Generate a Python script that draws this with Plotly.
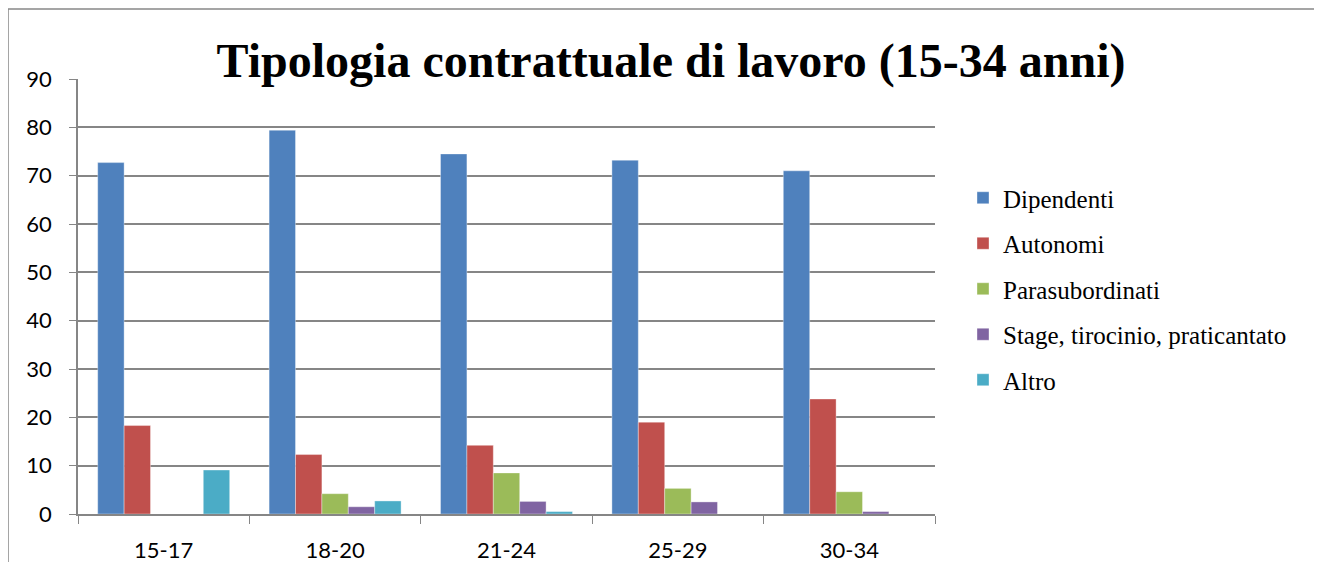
import plotly.graph_objects as go

# Data (percent)
age_groups = ["15-17", "18-20", "21-24", "25-29", "30-34"]
dipendenti = [72.7, 79.4, 74.5, 73.2, 71.0]
autonomi = [18.3, 12.3, 14.2, 19.0, 23.8]
parasubordinati = [0.0, 4.2, 8.5, 5.3, 4.6]
stage = [0.0, 1.5, 2.6, 2.5, 0.5]
altro = [9.1, 2.7, 0.5, 0.0, 0.0]

series = [
    ("Dipendenti", dipendenti, "#4F81BD"),
    ("Autonomi", autonomi, "#C0504D"),
    ("Parasubordinati", parasubordinati, "#9BBB59"),
    ("Stage, tirocinio, praticantato", stage, "#8064A2"),
    ("Altro", altro, "#4BACC6"),
]

OFF = 8  # page body margin
W, H = 1322 - OFF, 562 - OFF
# plot area (page pixels minus body margin)
L, R, T, B = 78 - OFF, 935 - OFF, 79 - OFF, 514 - OFF

fig = go.Figure()
for name, vals, color in series:
    fig.add_trace(go.Bar(
        x=age_groups,
        y=vals,
        name=name,
        legendgroup=name,
        marker=dict(color=color, line=dict(width=0.6, color="rgba(255,255,255,0.6)")),
    ))

def px_x(p):
    return (p - OFF - L) / (R - L)

def px_y(p):
    return (B - (p - OFF)) / (B - T)

# outer chart frame
fig.add_shape(type="rect", xref="paper", yref="paper",
              x0=px_x(8), x1=px_x(1320), y0=px_y(600), y1=px_y(9),
              line=dict(color="#888888", width=1.5), layer="below")

serif = "Times New Roman, Liberation Serif, serif"

fig.update_layout(
    width=W, height=H,
    margin=dict(l=L, r=W - R, t=T, b=H - B, autoexpand=False),
    font=dict(family=serif),
    paper_bgcolor="white",
    plot_bgcolor="white",
    barmode="group",
    bargap=0.23,
    bargroupgap=0,
    title=dict(
        text="<b>Tipologia contrattuale di lavoro (15-34 anni)</b>",
        font=dict(family=serif, size=48, color="black"),
        x=(671 - OFF) / W, xanchor="center",
        y=1 - (60 - OFF) / H, yanchor="middle",
    ),
    legend=dict(
        x=px_x(963), xanchor="left",
        y=px_y(175), yanchor="top",
        font=dict(family=serif, size=25, color="black"),
        tracegroupgap=10,
        traceorder="grouped",
        bgcolor="rgba(0,0,0,0)",
    ),
    xaxis=dict(
        automargin=False,
        showline=True, linecolor="#868686", linewidth=1.5,
        ticks="outside", tickson="boundaries", ticklen=8, tickcolor="#868686",
        tickfont=dict(family="Lato", size=22, color="black"),
        ticklabelstandoff=16,
        showgrid=False,
    ),
    yaxis=dict(
        automargin=False,
        range=[0, 90], dtick=10,
        showline=True, linecolor="#868686", linewidth=1.5,
        ticks="outside", ticklen=7, tickcolor="#868686",
        gridcolor="#868686", gridwidth=1.5,
        tickfont=dict(family="Lato", size=22, color="black"),
        ticklabelstandoff=13,
        zeroline=False,
    ),
    showlegend=True,
)

fig.write_html("out.html")
